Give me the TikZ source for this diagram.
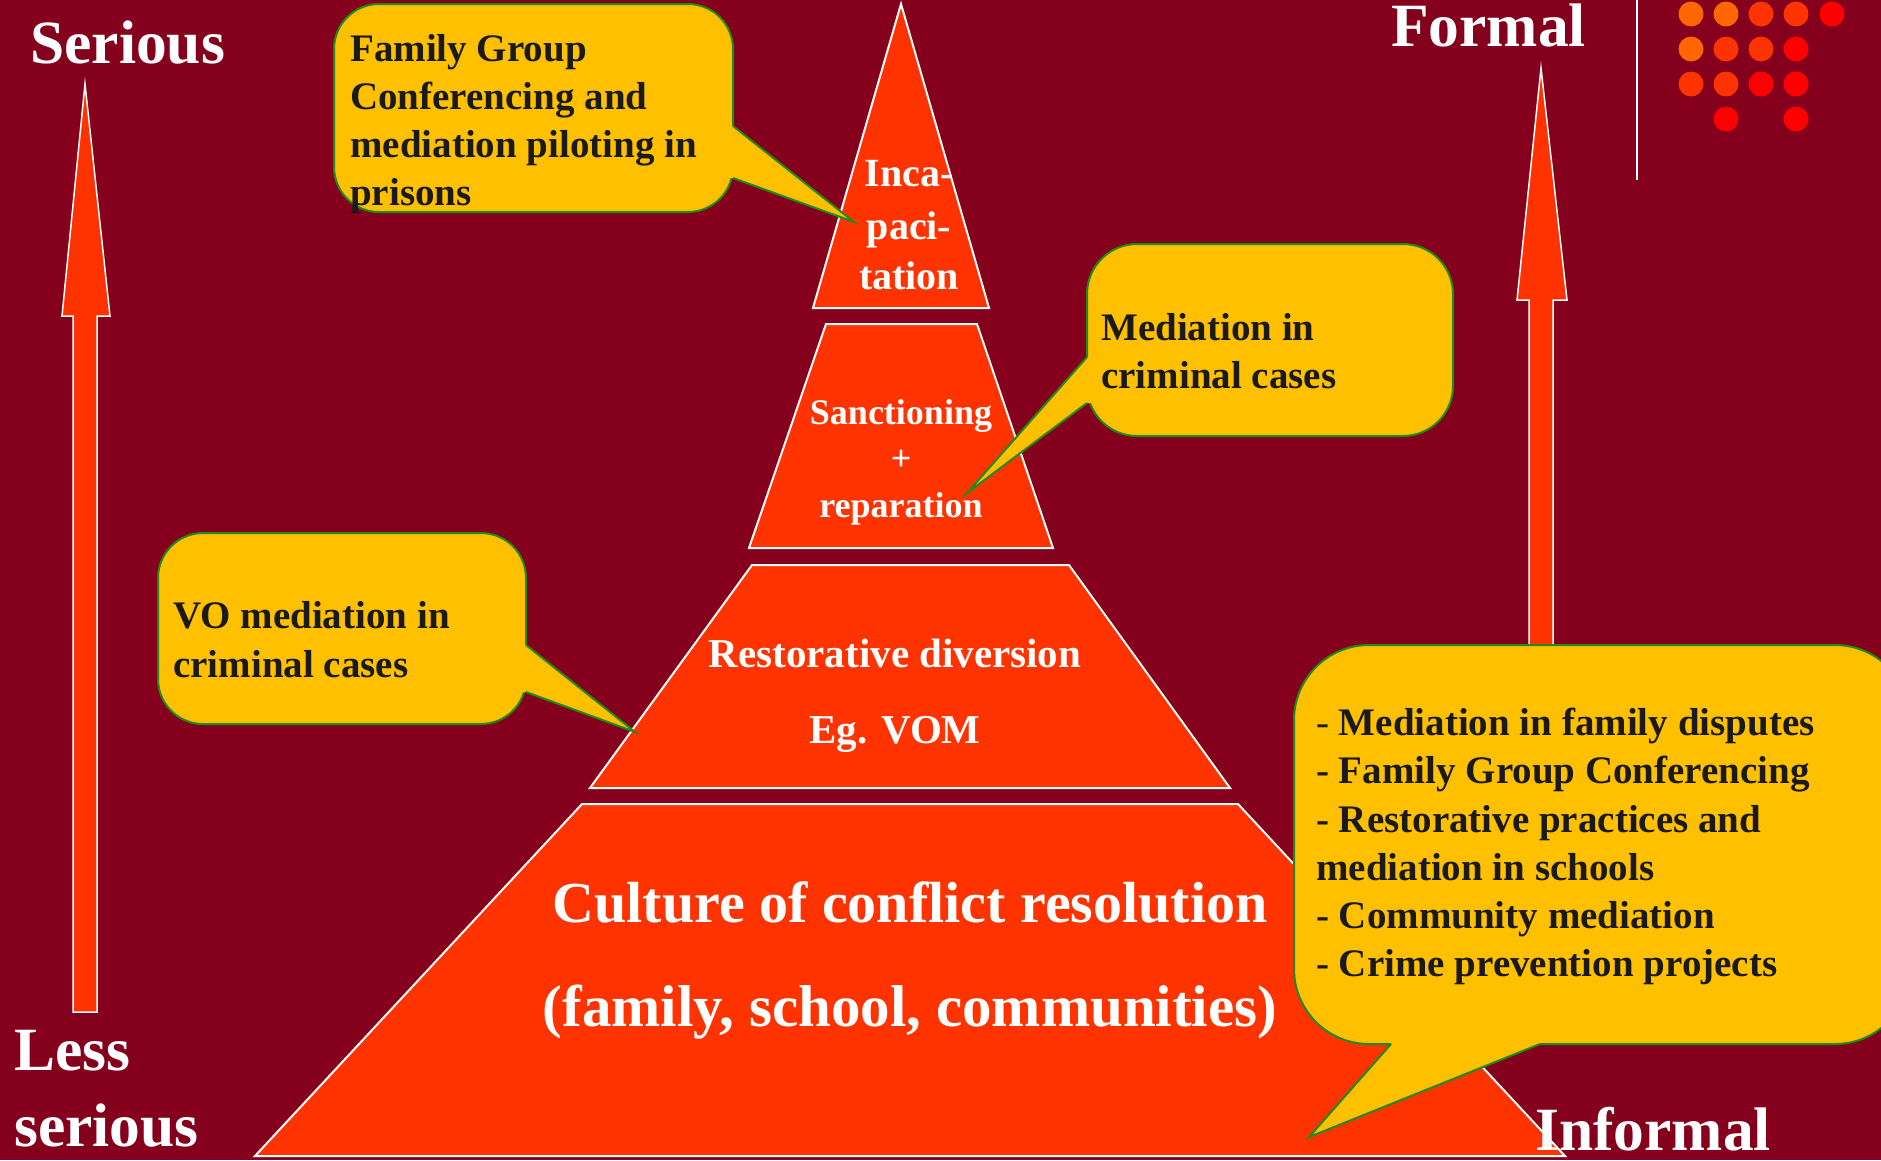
\documentclass[tikz,border=0pt]{standalone}
\usepackage{fontspec}
\setmainfont{Liberation Serif}
\definecolor{bg}{HTML}{85001C}
\definecolor{tierred}{HTML}{FF3300}
\definecolor{calloutgold}{HTML}{FFC000}
\definecolor{calloutline}{HTML}{1F8A1F}
\definecolor{ctextcol}{HTML}{1A1A1A}
\definecolor{dotorange}{HTML}{FF6600}
\definecolor{dotredorange}{HTML}{FF3300}
\definecolor{dotred}{HTML}{FF0000}
\begin{document}
\begin{tikzpicture}[x=1pt,y=-1pt,
  tier/.style={fill=tierred,draw=white,line width=2pt,line join=miter},
  bigarrow/.style={fill=tierred,draw=white,line width=1.5pt},
  bubble/.style={fill=calloutgold,draw=calloutline,line width=2pt},
  bubblefill/.style={fill=calloutgold},
  bubbleedge/.style={draw=calloutline,line width=2pt,line join=miter},
  lbl/.style={text=white,font=\bfseries\fontsize{61.5}{61.5}\selectfont,inner sep=0pt,anchor=base west},
  tiertext/.style={text=white,inner sep=0pt,anchor=base},
  ctext/.style={text=ctextcol,font=\bfseries\fontsize{39}{39}\selectfont,inner sep=0pt,anchor=base west}
]
\useasboundingbox (0,0) rectangle (1881,1160);
\clip (0,0) rectangle (1881,1160);
\fill[bg] (0,0) rectangle (1881,1160);

% side arrows
\draw[bigarrow] (85,84) -- (110,316) -- (97,316) -- (97,1012) -- (73,1012) -- (73,316) -- (62,316) -- cycle;
\draw[bigarrow] (1541,68) -- (1567,300) -- (1553,300) -- (1553,720) -- (1529,720) -- (1529,300) -- (1517,300) -- cycle;

% decorative line and dots
\draw[white,line width=1.5pt] (1637,0) -- (1637,180);
\foreach \x/\y/\c in {1691/14/dotorange,1726/14/dotorange,1761/14/dotredorange,1796/14/dotredorange,1832/14/dotred,
  1691/49/dotorange,1726/49/dotredorange,1761/49/dotredorange,1796/49/dotred,
  1691/84/dotredorange,1726/84/dotredorange,1761/84/dotred,1796/84/dotred,
  1726/119/dotred,1796/119/dotred}
  \fill[\c] (\x,\y) circle[radius=12.5];

% pyramid
\draw[tier] (901,4) -- (989,308) -- (813,308) -- cycle;
\draw[tier] (826,324) -- (977,324) -- (1053,548) -- (749,548) -- cycle;
\draw[tier] (752,565) -- (1069,565) -- (1230,788) -- (590,788) -- cycle;
\draw[tier] (582,804) -- (1238,804) -- (1565,1156) -- (255,1156) -- cycle;

\begin{scope}[every node/.append style={tiertext,font=\bfseries\fontsize{40}{40}\selectfont}]
\node (t1a) at (909,186) {Inca-};
\node (t1b) at (909,239) {paci-};
\node (t1c) at (909,289) {tation};
\end{scope}
\begin{scope}[every node/.append style={tiertext,font=\bfseries\fontsize{36}{36}\selectfont}]
\node (t2a) at (901,424) {Sanctioning};
\node (t2b) at (901,470) {+};
\node (t2c) at (901,517) {reparation};
\end{scope}
\begin{scope}[every node/.append style={tiertext,font=\bfseries\fontsize{41}{41}\selectfont}]
\node (t3a) at (895,667) {Restorative diversion};
\node (t3b) at (895,743) {Eg. VOM};
\end{scope}
\begin{scope}[every node/.append style={tiertext,font=\bfseries\fontsize{58}{58}\selectfont}]
\node (t4a) at (910,922) {Culture of conflict resolution};
\node[font=\bfseries\fontsize{59}{59}\selectfont] (t4b) at (910,1026) {(family, school, communities)};
\end{scope}

% axis labels
\node[lbl] (serious) at (30,63) {Serious};
\node[lbl] (less) at (14,1070) {Less};
\node[lbl] (lessb) at (14,1146) {serious};
\node[lbl] (formal) at (1391,46) {Formal};

% callout 1
\draw[bubble,rounded corners=45pt] (334,4) rectangle (733,212);
\fill[bubblefill] (715,126) -- (733,126) -- (854,222) -- (733,178) -- (715,178) -- cycle;
\draw[bubbleedge] (733,126) -- (854,222) -- (733,178);
\node[ctext] (c1a) at (350,61) {Family Group};
\node[ctext] (c1b) at (350,109) {Conferencing and};
\node[ctext] (c1c) at (350,157) {mediation piloting in};
\node[ctext] (c1d) at (350,205) {prisons};

% callout 2
\draw[bubble,rounded corners=50pt] (1087,244) rectangle (1453,436);
\fill[bubblefill] (1105,357) -- (1087,357) -- (967,493) -- (1087,403) -- (1105,403) -- cycle;
\draw[bubbleedge] (1087,357) -- (967,493) -- (1087,403);
\node[ctext] (c2a) at (1101,340) {Mediation in};
\node[ctext] (c2b) at (1101,388) {criminal cases};

% callout 3
\draw[bubble,rounded corners=45pt] (158,533) rectangle (526,724);
\fill[bubblefill] (508,645) -- (526,645) -- (635,732) -- (526,692) -- (508,692) -- cycle;
\draw[bubbleedge] (526,645) -- (635,732) -- (526,692);
\node[ctext] (c3a) at (173,628) {VO mediation in};
\node[ctext] (c3b) at (173,677) {criminal cases};

% callout 4
\draw[bubble,rounded corners=75pt] (1294,645) rectangle (1910,1044);
\fill[bubblefill] (1391,1026) -- (1391,1044) -- (1309,1137) -- (1540,1044) -- (1540,1026) -- cycle;
\draw[bubbleedge] (1391,1044) -- (1309,1137) -- (1540,1044);
\node[ctext] (c4a) at (1316,735) {\mdseries-\bfseries{} Mediation in family disputes};
\node[ctext] (c4b) at (1316,783) {- Family Group Conferencing};
\node[ctext] (c4c) at (1316,832) {- Restorative practices and};
\node[ctext] (c4d) at (1316,880) {mediation in schools};
\node[ctext] (c4e) at (1316,928) {- Community mediation};
\node[ctext] (c4f) at (1316,976) {- Crime prevention projects};

\node[lbl] (informal) at (1535,1150) {Informal};
\end{tikzpicture}
\end{document}
